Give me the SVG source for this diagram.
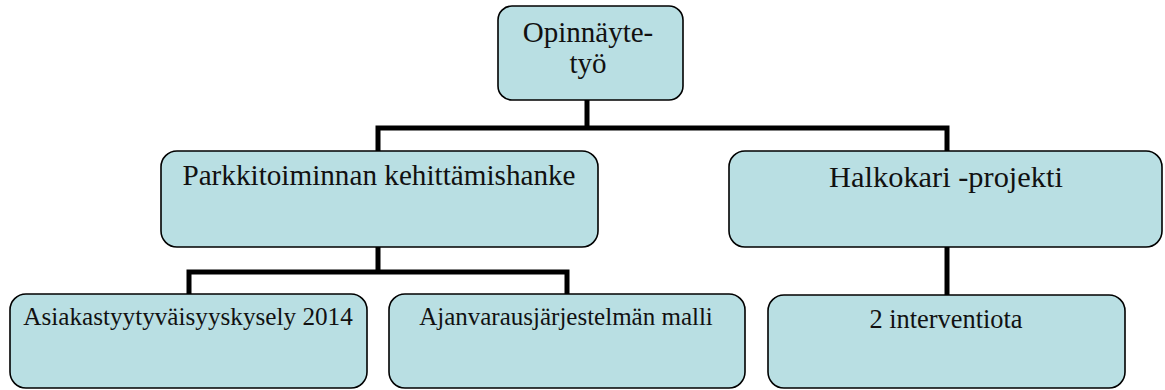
<svg xmlns="http://www.w3.org/2000/svg" width="1165" height="390" viewBox="0 0 1165 390">
<style>
.box{fill:#B9DFE3;stroke:#000;stroke-width:1.6}
.lbl{font-family:"Liberation Serif","Times New Roman",serif;fill:#111;text-anchor:middle}
.con{fill:none;stroke:#000;stroke-width:5;stroke-linecap:square;stroke-linejoin:miter}
</style>
<rect width="1165" height="390" fill="#fff"/>
<g id="connectors">
<path class="con" d="M587,100 V128 M378,128 H947 M378,128 V151 M947,128 V151"/>
<path class="con" d="M378,247 V272 M189,272 H567 M189,272 V294 M567,272 V294"/>
<path class="con" d="M947,247 V295"/>
</g>
<g id="n-opinnayte">
<rect class="box" x="498" y="6" width="185" height="94" rx="14"/>
<text class="lbl" x="588" y="42" font-size="29">Opinnäyte-</text>
<text class="lbl" x="588" y="73" font-size="29">työ</text>
</g>
<g id="n-parkki">
<rect class="box" x="161" y="151" width="437" height="96" rx="16"/>
<text class="lbl" x="379" y="185" font-size="29.2">Parkkitoiminnan kehittämishanke</text>
</g>
<g id="n-halkokari">
<rect class="box" x="729" y="151" width="433" height="96" rx="16"/>
<text class="lbl" x="946" y="187" font-size="30.4">Halkokari -projekti</text>
</g>
<g id="n-asiakas">
<rect class="box" x="10" y="294" width="357" height="94" rx="16"/>
<text class="lbl" x="188" y="325" font-size="25.2">Asiakastyytyväisyyskysely 2014</text>
</g>
<g id="n-ajanvaraus">
<rect class="box" x="389" y="294" width="356" height="94" rx="16"/>
<text class="lbl" x="566" y="325" font-size="25">Ajanvarausjärjestelmän malli</text>
</g>
<g id="n-interventiot">
<rect class="box" x="768" y="295" width="357" height="93" rx="16"/>
<text class="lbl" x="946" y="328" font-size="26.4">2 interventiota</text>
</g>
</svg>
